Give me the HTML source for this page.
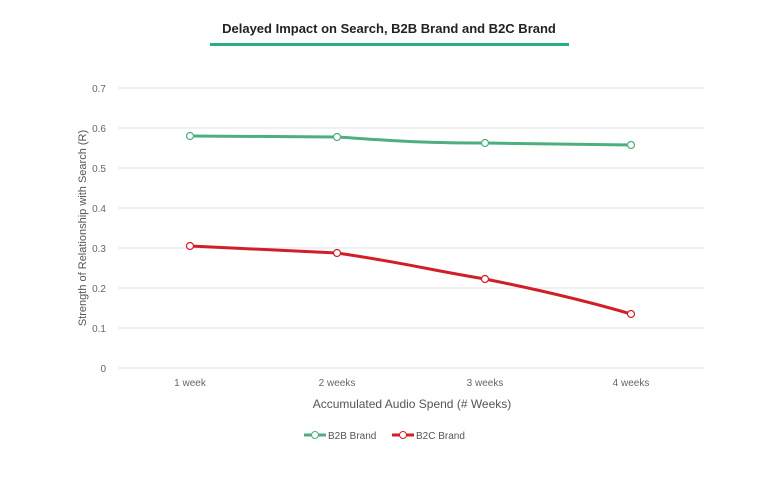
<!DOCTYPE html>
<html><head><style>body{margin:0;background:#fff}svg{display:block}</style></head>
<body>
<svg width="768" height="481" xmlns="http://www.w3.org/2000/svg" font-family="Liberation Sans, sans-serif">
<text x="389" y="33" text-anchor="middle" font-size="13" font-weight="bold" fill="#222">Delayed Impact on Search, B2B Brand and B2C Brand</text>
<rect x="210" y="43" width="359" height="3" fill="#27b07c"/>
<g stroke="#e3e3e3" stroke-width="1">
<line x1="118" y1="88" x2="705" y2="88"/><line x1="118" y1="128" x2="705" y2="128"/>
<line x1="118" y1="168" x2="705" y2="168"/><line x1="118" y1="208" x2="705" y2="208"/>
<line x1="118" y1="248" x2="705" y2="248"/><line x1="118" y1="288" x2="705" y2="288"/>
<line x1="118" y1="328" x2="705" y2="328"/><line x1="118" y1="368" x2="705" y2="368"/>
</g>
<g font-size="10" fill="#666" text-anchor="end">
<text x="106" y="92">0.7</text><text x="106" y="132">0.6</text><text x="106" y="172">0.5</text>
<text x="106" y="212">0.4</text><text x="106" y="252">0.3</text><text x="106" y="292">0.2</text>
<text x="106" y="332">0.1</text><text x="106" y="372">0</text>
</g>
<g font-size="10" fill="#666" text-anchor="middle">
<text x="190" y="386">1 week</text><text x="337" y="386">2 weeks</text>
<text x="485" y="386">3 weeks</text><text x="631" y="386">4 weeks</text>
</g>
<text x="412" y="408" text-anchor="middle" font-size="12" fill="#555">Accumulated Audio Spend (# Weeks)</text>
<text transform="translate(86,228) rotate(-90)" text-anchor="middle" font-size="11" fill="#555">Strength of Relationship with Search (R)</text>
<path d="M190,136 L337,137 C400,141 420,143 485,143 L631,145" fill="none" stroke="#4caf7d" stroke-width="3"/>
<path d="M190,246 L337,253 C400,262 430,270 485,279 C540,290 590,302 631,314" fill="none" stroke="#d11f2a" stroke-width="3"/>
<g fill="#fff" stroke-width="1.2">
<circle cx="190" cy="136" r="3.5" stroke="#4caf7d"/><circle cx="337" cy="137" r="3.5" stroke="#4caf7d"/>
<circle cx="485" cy="143" r="3.5" stroke="#4caf7d"/><circle cx="631" cy="145" r="3.5" stroke="#4caf7d"/>
<circle cx="190" cy="246" r="3.5" stroke="#d11f2a"/><circle cx="337" cy="253" r="3.5" stroke="#d11f2a"/>
<circle cx="485" cy="279" r="3.5" stroke="#d11f2a"/><circle cx="631" cy="314" r="3.5" stroke="#d11f2a"/>
</g>
<line x1="304" y1="435" x2="326" y2="435" stroke="#4caf7d" stroke-width="3"/>
<circle cx="315" cy="435" r="3.5" fill="#fff" stroke="#4caf7d"/>
<text x="328" y="439" font-size="10" fill="#555">B2B Brand</text>
<line x1="392" y1="435" x2="414" y2="435" stroke="#d11f2a" stroke-width="3"/>
<circle cx="403" cy="435" r="3.5" fill="#fff" stroke="#d11f2a"/>
<text x="416" y="439" font-size="10" fill="#555">B2C Brand</text>
</svg>
</body></html>
